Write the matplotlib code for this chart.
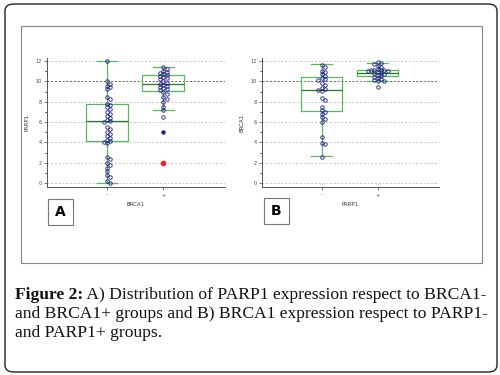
import matplotlib.pyplot as plt
from matplotlib.patches import FancyBboxPatch, Rectangle

# panel A: PARP1 by BRCA1 group
a_neg = [12.0, 10.0, 9.8, 9.6, 9.5, 9.3, 8.5, 8.3, 7.8, 7.7, 7.5, 7.3, 7.0, 6.8,
         6.6, 6.4, 6.2, 6.1, 6.0, 5.5, 5.3, 5.0, 4.8, 4.6, 4.4, 4.2, 4.1, 4.0,
         3.9, 2.6, 2.4, 2.0, 1.8, 1.5, 1.2, 0.8, 0.6, 0.2, 0.0]
a_pos = [11.4, 11.2, 11.0, 10.9, 10.8, 10.7, 10.6, 10.5, 10.4, 10.3, 10.2, 10.0,
         9.9, 9.8, 9.7, 9.6, 9.5, 9.4, 9.3, 9.2, 9.0, 8.8, 8.5, 8.3, 8.0, 7.5,
         7.2, 6.5]
a_far = [5.0]
a_red = [2.0]
# q1, median, q3, whisker low, whisker high
a_stats = [(4.1, 6.1, 7.8, 0.0, 12.0), (9.1, 9.8, 10.6, 7.2, 11.4)]

# panel B: BRCA1 by PARP1 group
b_neg = [11.6, 11.4, 11.0, 10.9, 10.7, 10.5, 10.3, 10.2, 10.1, 9.9, 9.7, 9.4,
         9.3, 9.2, 9.1, 8.4, 8.2, 7.5, 7.2, 7.0, 6.8, 6.5, 6.3, 6.0, 4.5, 3.9,
         3.8, 2.6]
b_pos = [11.9, 11.8, 11.7, 11.5, 11.4, 11.2, 11.1, 11.1, 11.1, 11.1, 11.0, 11.0,
         10.9, 10.8, 10.8, 10.7, 10.6, 10.5, 10.4, 10.3, 10.2, 10.1, 10.0, 10.0,
         9.5]
b_stats = [(7.1, 9.2, 10.4, 2.7, 11.7), (10.5, 10.8, 11.1, 10.0, 11.8)]

groups = ['-', '+']
caption1 = ' A) Distribution of PARP1 expression respect to BRCA1-'
caption2 = 'and BRCA1+ groups and B) BRCA1 expression respect to PARP1-'
caption3 = 'and PARP1+ groups.'

NAVY = '#1c1c8a'
GREEN = '#5cb85c'
DGREEN = '#1f7f1f'


def swarm(vals, xpx, ypx, d=2.8):
    # horizontal offsets so the circles don't sit on top of each other
    placed = []
    offs = []
    for v in vals:
        k = 0
        while True:
            cand = [0] if k == 0 else [k * d * 0.6, -k * d * 0.6]
            ok = None
            for c in cand:
                if all(((c - px) ** 2 + ((v - py) * ypx) ** 2) >= d * d for px, py in placed):
                    ok = c
                    break
            if ok is not None:
                placed.append((ok, v))
                offs.append(ok / xpx)
                break
            k += 1
    return offs


def panel(ax, neg, pos, stats, ylab, xlab, extra=None, red=None):
    st = [dict(q1=s[0], med=s[1], q3=s[2], whislo=s[3], whishi=s[4], fliers=[]) for s in stats]
    ax.bxp(st, positions=[1, 2], widths=0.74, capwidths=0.37,
           boxprops=dict(color=GREEN, lw=0.9),
           whiskerprops=dict(color=GREEN, lw=0.9),
           capprops=dict(color=GREEN, lw=0.9),
           medianprops=dict(color=DGREEN, lw=0.9))
    xpx, ypx = 56.0, 10.17
    for i, vals in enumerate([neg, pos]):
        offs = swarm(vals, xpx, ypx)
        ax.plot([i + 1 + o for o in offs], vals, 'o', ms=2.5, mfc='none', mec=NAVY,
                mew=0.6, zorder=4)
    if extra:
        ax.plot([2] * len(extra), extra, 'o', ms=2.5, mfc=NAVY, mec=NAVY, mew=0.6, zorder=4)
    if red:
        ax.plot([2] * len(red), red, 'o', ms=3.0, mfc='#ee2222', mec='#ee2222', zorder=4)
    for y in range(0, 13, 2):
        ax.axhline(y, color='#555555' if y == 10 else '#c0c0c0', lw=0.6,
                   ls=(0, (2.5, 2)), zorder=0)
    ax.set_xlim(-0.07, 3.1)
    ax.set_ylim(-0.4, 12.3)
    ax.set_xticks([1, 2])
    ax.set_xticklabels(groups)
    ax.set_yticks(range(0, 13, 2))
    ax.set_yticks(range(1, 13, 2), minor=True)
    ax.tick_params(labelsize=3.5, length=2.5, width=0.5, colors='#444444', pad=1.5)
    ax.tick_params(which='minor', length=1.5, width=0.5)
    for s in ['top', 'right']:
        ax.spines[s].set_visible(False)
    for s in ['left', 'bottom']:
        ax.spines[s].set_color('#555555')
        ax.spines[s].set_linewidth(0.7)
    ax.set_ylabel(ylab, fontsize=4, labelpad=4, color='#333333')
    ax.set_xlabel(xlab, fontsize=4, labelpad=3, color='#333333')


fig = plt.figure(figsize=(5, 3.75), dpi=100)

fig.patches.append(FancyBboxPatch((5 / 500, 3 / 375), 492 / 500, 368 / 375,
                                  boxstyle='round,pad=0,rounding_size=0.018',
                                  transform=fig.transFigure, fill=False,
                                  ec='#222222', lw=1.0))
fig.patches.append(Rectangle((21 / 500, 1 - 263 / 375), 461 / 500, 237 / 375,
                             transform=fig.transFigure, fill=False, ec='#888888', lw=0.8))

ax1 = fig.add_axes([0.094, 0.501, 0.356, 0.344])
ax2 = fig.add_axes([0.524, 0.501, 0.354, 0.344])
panel(ax1, a_neg, a_pos, a_stats, 'PARP1', 'BRCA1', extra=a_far, red=a_red)
panel(ax2, b_neg, b_pos, b_stats, 'BRCA1', 'PARP1')

for lab, x0, y0 in [('A', 48, 199), ('B', 264, 198)]:
    fig.patches.append(Rectangle((x0 / 500, 1 - (y0 + 26) / 375), 25 / 500, 26 / 375,
                                 transform=fig.transFigure, fill=False, ec='#777777', lw=0.8))
    fig.text((x0 + 12.5) / 500, 1 - (y0 + 13) / 375, lab, ha='center', va='center',
             fontsize=10, fontweight='bold', family='DejaVu Sans')

cap = dict(fontsize=12.6, family='Liberation Serif', color='#111111')
t = fig.text(15 / 500, 1 - 295 / 375, 'Figure 2:', ha='left', va='center',
             fontweight='bold', **cap)
ax1.annotate(caption1, xy=(1, 0.5), xycoords=t, ha='left', va='center',
             annotation_clip=False, **cap)
fig.text(15 / 500, 1 - 314 / 375, caption2, ha='left', va='center', **cap)
fig.text(15 / 500, 1 - 333 / 375, caption3, ha='left', va='center', **cap)

fig.savefig('out.png', dpi=100)
